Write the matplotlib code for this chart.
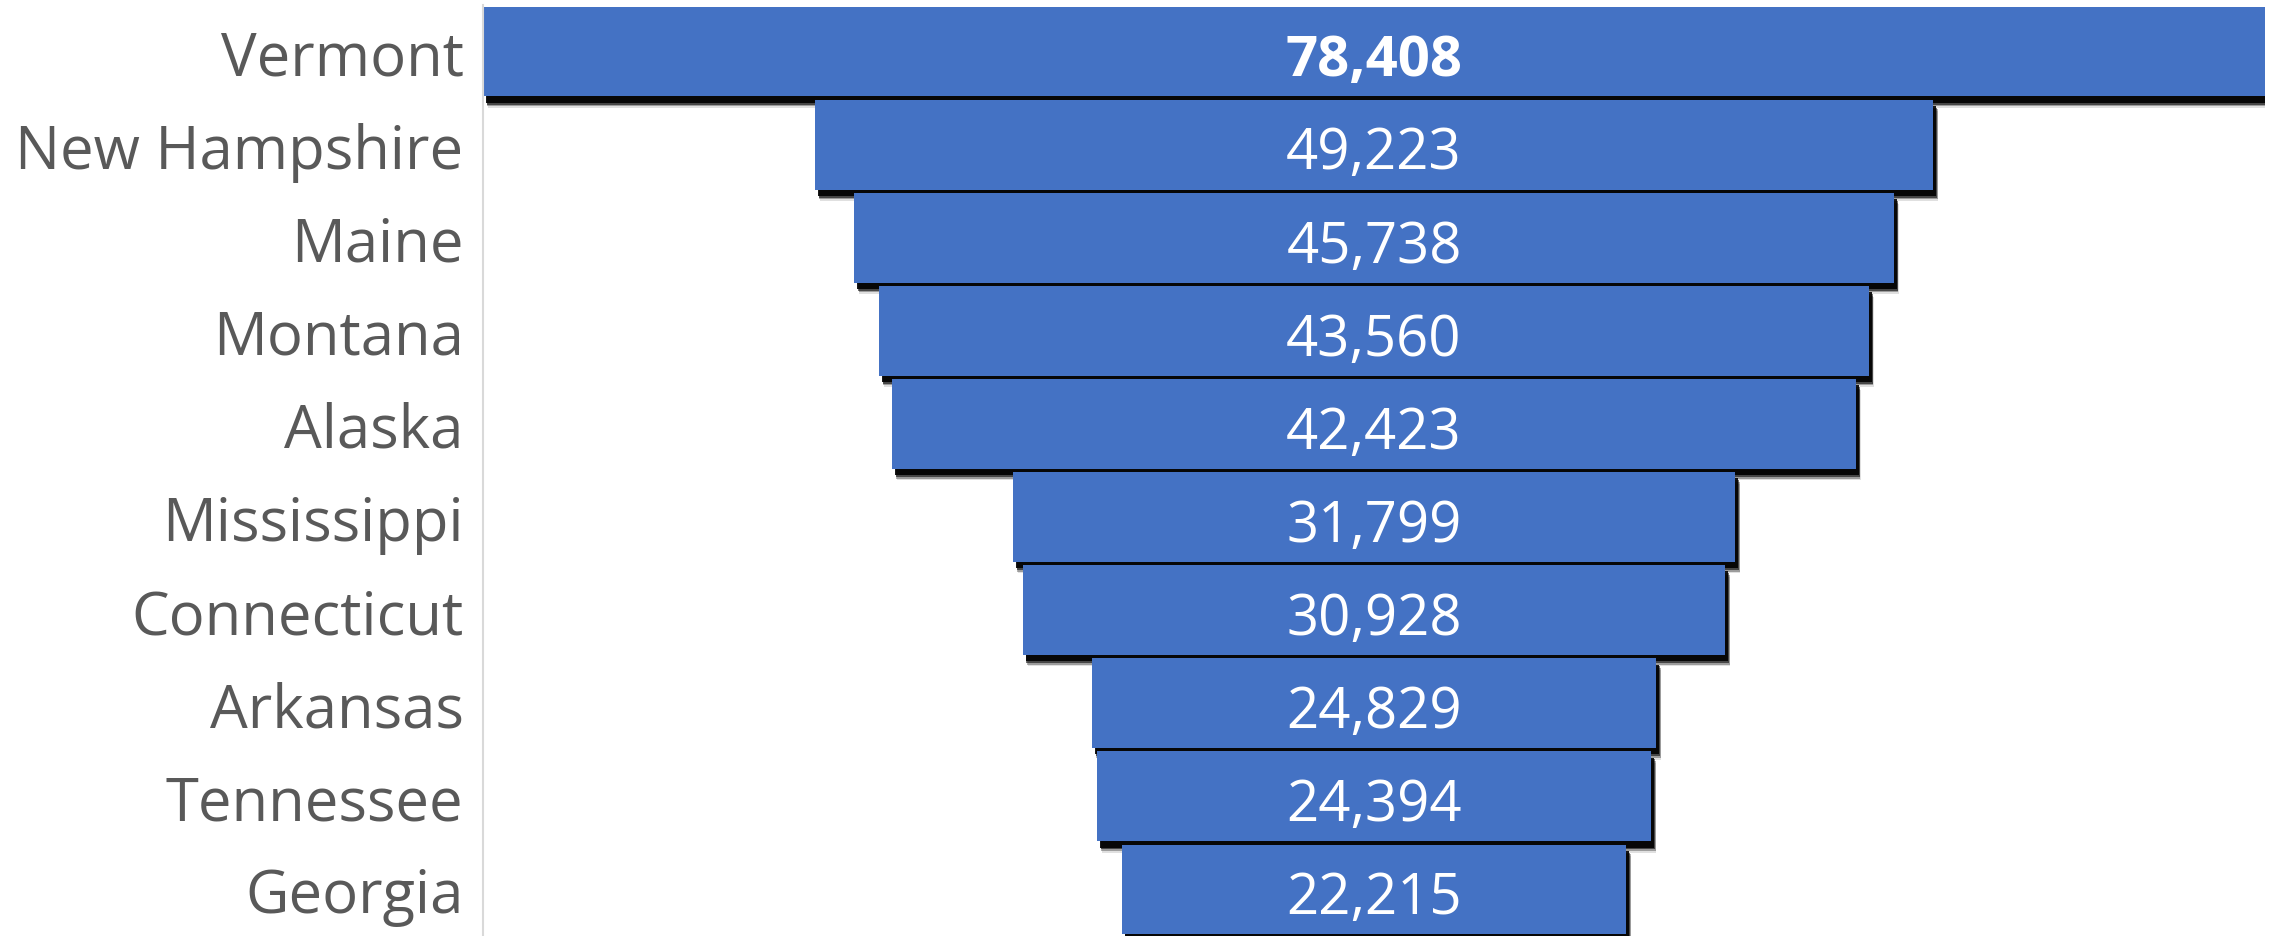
import matplotlib
matplotlib.use("Agg")
import matplotlib.pyplot as plt
import matplotlib.patheffects as pe

states = ["Vermont", "New Hampshire", "Maine", "Montana", "Alaska",
          "Mississippi", "Connecticut", "Arkansas", "Tennessee", "Georgia"]
values = [78408, 49223, 45738, 43560, 42423, 31799, 30928, 24829, 24394, 22215]
value_labels = [f"{v:,}" for v in values]

bar_color = "#4472C4"
label_color = "#595959"
font = "Open Sans"

fig = plt.figure(figsize=(22.72, 9.37), dpi=100)
ax = fig.add_axes([0.2126, 0.0, 0.7843, 0.9936])

for side in ["top", "right", "bottom"]:
    ax.spines[side].set_visible(False)
ax.spines["left"].set_color("#d9d9d9")
ax.spines["left"].set_linewidth(1.5)

half = max(values) / 2
positions = list(range(len(states)))
lefts = [-v / 2 for v in values]

# soft drop shadow built from a few stacked offset layers
shadow = [
    pe.SimplePatchShadow(offset=(3.6, -8.2), shadow_rgbFace="black", alpha=0.12),
    pe.SimplePatchShadow(offset=(3.2, -7.0), shadow_rgbFace="black", alpha=0.3),
    pe.SimplePatchShadow(offset=(2.8, -5.8), shadow_rgbFace="black", alpha=0.55),
    pe.SimplePatchShadow(offset=(2.2, -4.5), shadow_rgbFace="black", alpha=0.9),
    pe.Normal(),
]

bars = ax.barh(positions, values, left=lefts, height=0.965, color=bar_color,
               edgecolor="none", zorder=2)
for b in bars:
    b.set_path_effects(shadow)

for i, (pos, txt) in enumerate(zip(positions, value_labels)):
    ax.text(0, pos + 0.1, txt, ha="center", va="center", color="white",
            fontsize=40.5, family=font, fontweight="bold" if i == 0 else "normal",
            zorder=5)

ax.set_xlim(-half, half)
ax.set_ylim(len(states) - 0.5, -0.5)
ax.set_yticks(positions)
ax.set_yticklabels(states)
ax.set_xticks([])
ax.tick_params(axis="y", length=0, pad=14, labelsize=43, labelcolor=label_color)
for lbl in ax.get_yticklabels():
    lbl.set_family(font)
ax.set_facecolor("white")

fig.savefig("out.png", dpi=100, facecolor="white")
